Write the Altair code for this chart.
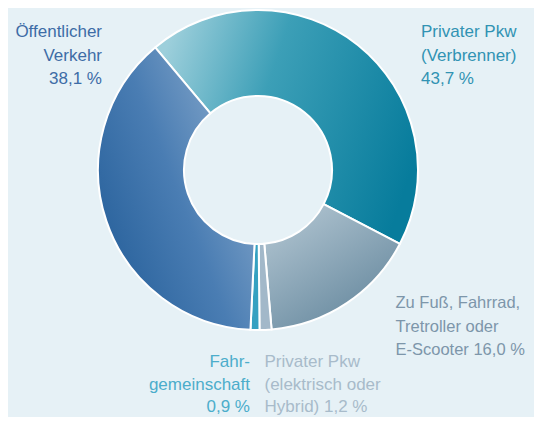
import math
import altair as alt
import pandas as pd

# ---- data ----
categories = [
    "Privater Pkw (Verbrenner)",
    "Zu Fuß, Fahrrad, Tretroller oder E-Scooter",
    "Privater Pkw (elektrisch oder Hybrid)",
    "Fahrgemeinschaft",
    "Öffentlicher Verkehr",
]
values = [43.7, 16.0, 1.2, 0.9, 38.1]
label_names = [
    "Privater Pkw\n(Verbrenner)",
    "Zu Fuß, Fahrrad,\nTretroller oder\nE-Scooter",
    "Privater Pkw\n(elektrisch oder\nHybrid)",
    "Fahr-\ngemeinschaft",
    "Öffentlicher\nVerkehr",
]
value_joiners = ["\n", " ", " ", "\n", "\n"]

def fmt(v):
    return f"{v:.1f}".replace(".", ",") + " %"

df = pd.DataFrame({"cat": categories, "value": values})
df["end"] = df["value"].cumsum()
df["start"] = df["end"] - df["value"]
df["label"] = [n + j + fmt(v) for n, j, v in zip(label_names, value_joiners, values)]
total = float(sum(values))

# ---- style ----
BG = "#e6f1f6"
CX, CY = 250, 162
R_OUT, R_IN = 160, 74
START = math.radians(-40)

def grad(stops, x1, y1, x2, y2):
    return alt.LinearGradient(
        gradient="linear",
        stops=[alt.GradientStop(offset=o, color=c) for o, c in stops],
        x1=x1, y1=y1, x2=x2, y2=y2,
    )

fills = {
    categories[0]: grad([(0, "#9dcfdb"), (0.4, "#3c9fb7"), (1, "#077c9c")], 0, 0.3, 1, 0.6),
    categories[1]: grad([(0, "#b4c7d3"), (1, "#62859b")], 0.1, 0, 0.8, 1),
    categories[2]: "#a2b8c9",
    categories[3]: "#35a1c1",
    categories[4]: grad([(0, "#90afcf"), (0.5, "#4a7db3"), (1, "#235d98")], 1, 0.15, 0, 0.85),
}

text_style = {
    categories[0]: dict(x=413, y=29.3, align="left", color="#3193b3", size=17, lh=23.6),
    categories[1]: dict(x=387.5, y=300.3, align="left", color="#7d96aa", size=16.5, lh=23.6),
    categories[2]: dict(x=256.5, y=359, align="left", color="#a8bbca", size=17, lh=22.5),
    categories[3]: dict(x=242, y=359, align="right", color="#4cadcb", size=17, lh=22.5),
    categories[4]: dict(x=94, y=29.3, align="right", color="#3d6ca6", size=17, lh=23.6),
}

theta_scale = alt.Scale(domain=[0, total], range=[START, START + 2 * math.pi])

base = alt.Chart(df)
layers = []
for c in categories:
    layers.append(
        base.transform_filter(alt.datum.cat == c)
        .mark_arc(innerRadius=R_IN, outerRadius=R_OUT, fill=fills[c],
                  stroke="white", strokeWidth=2)
        .encode(
            theta=alt.Theta("start:Q", scale=theta_scale),
            theta2="end:Q",
            x=alt.value(CX),
            y=alt.value(CY),
        )
    )
for c in categories:
    s = text_style[c]
    layers.append(
        base.transform_filter(alt.datum.cat == c)
        .mark_text(align=s["align"], baseline="alphabetic", font="Liberation Sans",
                   fontSize=s["size"], lineBreak="\n", lineHeight=s["lh"], color=s["color"])
        .encode(x=alt.value(s["x"]), y=alt.value(s["y"]), text="label:N")
    )

chart = (
    alt.layer(*layers)
    .properties(width=526, height=409, background=BG, padding=0,
                autosize=alt.AutoSizeParams(type="none"))
    .configure_view(stroke=None)
)

chart.save("out.html", embed_options={"renderer": "svg", "actions": False})
